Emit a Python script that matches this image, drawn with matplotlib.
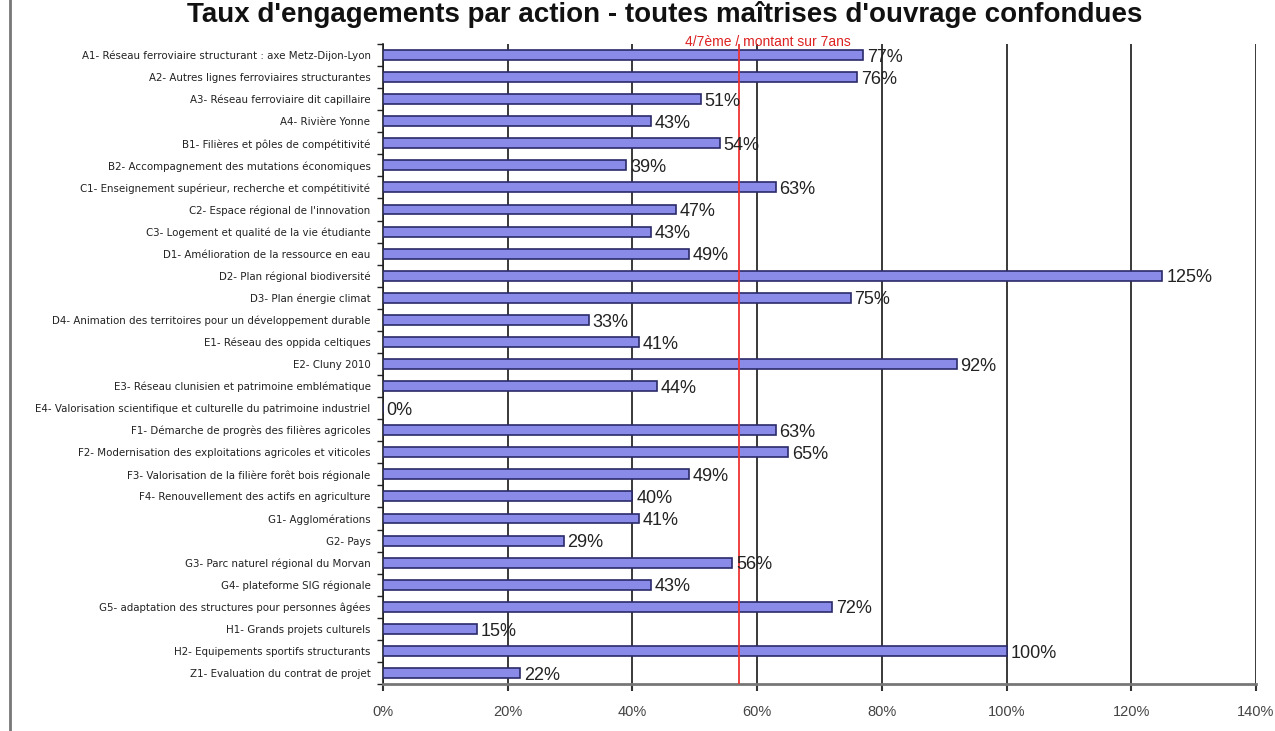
import matplotlib
matplotlib.use('Agg')
from matplotlib import pyplot as plt
from matplotlib.lines import Line2D
from matplotlib.ticker import FuncFormatter, MultipleLocator

# actions, top to bottom as in the chart
actions = [
    "A1- Réseau ferroviaire structurant : axe Metz-Dijon-Lyon",
    "A2- Autres lignes ferroviaires structurantes",
    "A3- Réseau ferroviaire dit capillaire",
    "A4- Rivière Yonne",
    "B1- Filières et pôles de compétitivité",
    "B2- Accompagnement des mutations économiques",
    "C1- Enseignement supérieur, recherche et compétitivité",
    "C2- Espace régional de l'innovation",
    "C3- Logement et qualité de la vie étudiante",
    "D1- Amélioration de la ressource en eau",
    "D2- Plan régional biodiversité",
    "D3- Plan énergie climat",
    "D4- Animation des territoires pour un développement durable",
    "E1- Réseau des oppida celtiques",
    "E2- Cluny 2010",
    "E3- Réseau clunisien et patrimoine emblématique",
    "E4- Valorisation scientifique et culturelle du patrimoine industriel",
    "F1- Démarche de progrès des filières agricoles",
    "F2- Modernisation des exploitations agricoles et viticoles",
    "F3- Valorisation de la filière forêt bois régionale",
    "F4- Renouvellement des actifs en agriculture",
    "G1- Agglomérations",
    "G2- Pays",
    "G3- Parc naturel régional du Morvan",
    "G4- plateforme SIG régionale",
    "G5- adaptation des structures pour personnes âgées",
    "H1- Grands projets culturels",
    "H2- Equipements sportifs structurants",
    "Z1- Evaluation du contrat de projet",
]
taux = [77, 76, 51, 43, 54, 39, 63, 47, 43, 49, 125, 75, 33, 41, 92, 44, 0,
        63, 65, 49, 40, 41, 29, 56, 43, 72, 15, 100, 22]

seuil = 400 / 7.0  # 4/7eme
seuil_label = "4/7ème / montant sur 7ans"
titre = "Taux d'engagements par action - toutes maîtrises d'ouvrage confondues"

plt.rcParams['font.family'] = ['Liberation Sans', 'DejaVu Sans']

fig = plt.figure(figsize=(12.75, 7.31), dpi=100)
ax = fig.add_axes([383 / 1275, 1 - 684 / 731, 873 / 1275, 640 / 731])

y = list(range(len(actions)))
ax.barh(y, taux, height=0.45, color='#8a8ae8', edgecolor='#2a2a6a', linewidth=1.2, zorder=3)

for yi, v in zip(y, taux):
    ax.text(v + 0.6, yi + 0.1, f"{v}%", va='center', ha='left', fontsize=13, color='#222222', zorder=4)

ax.set_xlim(0, 140)
ax.set_ylim(len(actions) - 0.5, -0.5)
ax.xaxis.set_major_locator(MultipleLocator(20))
ax.xaxis.set_major_formatter(FuncFormatter(lambda v, p: f"{int(v)}%"))
ax.set_yticks(y)
ax.set_yticklabels(actions, fontsize=7.4, color='#222222', family='DejaVu Sans')
ax.set_yticks([i + 0.5 for i in range(-1, len(actions))], minor=True)
ax.tick_params(axis='y', which='major', length=0, pad=9)
ax.tick_params(axis='y', which='minor', length=4, width=1.0, color='#222222')
ax.tick_params(axis='x', which='major', length=5, width=1.5, color='#333333',
               labelsize=10.5, labelcolor='#444444', pad=10)

ax.grid(axis='x', color='#2a2a2a', linewidth=1.3, zorder=0)
ax.set_axisbelow(True)
for s in ['top', 'right']:
    ax.spines[s].set_visible(False)
ax.spines['left'].set_color('#222222')
ax.spines['left'].set_linewidth(1.2)
ax.spines['bottom'].set_color('#777777')
ax.spines['bottom'].set_linewidth(2.0)

ax.axvline(seuil, color='#ee3333', linewidth=1.3, zorder=3.5)
ax.text(seuil + 4.6, -0.6, seuil_label, color='#dd2222', fontsize=10, ha='center', va='center')

fig.text(665 / 1275, 1 - 1 / 731, titre, ha='center', va='top', fontsize=20, fontweight='bold', color='#111111')
fig.add_artist(Line2D([10 / 1275, 10 / 1275], [0, 1], color='#777777', linewidth=2.0))

fig.savefig('out.png', dpi=100)
